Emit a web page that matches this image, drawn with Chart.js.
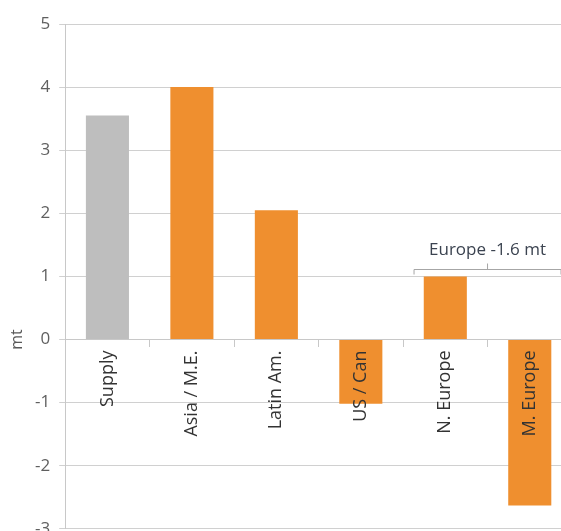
<!DOCTYPE html>
<html>
<head>
<meta charset="utf-8">
<script src="https://cdn.jsdelivr.net/npm/chart.js@4"></script>
<style>
  html, body { margin: 0; padding: 0; overflow: hidden; background: #fff; }
  #wrap { width: 572px; height: 548px; }
</style>
</head>
<body>
<div id="wrap"><canvas id="myChart"></canvas></div>
<script>
const categories = ['Supply', 'Asia / M.E.', 'Latin Am.', 'US / Can', 'N. Europe', 'M. Europe'];
const changeMt = [3.55, 4.0, 2.05, -1.02, 1.0, -2.63];
const barColors = ['#bebebe', '#ef8f2f', '#ef8f2f', '#ef8f2f', '#ef8f2f', '#ef8f2f'];
const yTicks = [-3, -2, -1, 0, 1, 2, 3, 4, 5];
const europeNote = 'Europe -1.6 mt';
const europeGroup = ['N. Europe', 'M. Europe'];

const font = "'Open Sans', sans-serif";

// "mt" unit label, set level with the zero line
const unitLabel = {
  id: 'unitLabel',
  afterDraw(chart) {
    const ctx = chart.ctx;
    const y = chart.scales.y.getPixelForValue(0);
    ctx.save();
    ctx.translate(17, y);
    ctx.rotate(-Math.PI / 2);
    ctx.font = '16px ' + font;
    ctx.fillStyle = '#595959';
    ctx.textAlign = 'center';
    ctx.textBaseline = 'middle';
    ctx.fillText('mt', 0, 0);
    ctx.restore();
  }
};

// bracket over the two European bars with the combined figure
const groupBracket = {
  id: 'groupBracket',
  afterDraw(chart) {
    const ctx = chart.ctx;
    const xs = chart.scales.x, ys = chart.scales.y;
    const a = xs.getPixelForValue(categories.indexOf(europeGroup[0]));
    const b = xs.getPixelForValue(categories.indexOf(europeGroup[1]));
    const mid = (a + b) / 2;
    const half = (b - a) * 0.87;
    const y = Math.round(ys.getPixelForValue(1.12)) + 0.5;
    ctx.save();
    ctx.strokeStyle = '#a6a6a6';
    ctx.lineWidth = 1;
    ctx.beginPath();
    ctx.moveTo(mid - half, y + 5);
    ctx.lineTo(mid - half, y);
    ctx.lineTo(mid + half, y);
    ctx.lineTo(mid + half, y + 5);
    ctx.moveTo(mid, y);
    ctx.lineTo(mid, y - 6);
    ctx.stroke();
    ctx.font = '17px ' + font;
    ctx.fillStyle = '#3b4350';
    ctx.textAlign = 'center';
    ctx.textBaseline = 'alphabetic';
    ctx.fillText(europeNote, mid, y - 15);
    ctx.restore();
  }
};

new Chart(document.getElementById('myChart'), {
  type: 'bar',
  data: {
    labels: categories,
    datasets: [{
      data: changeMt,
      backgroundColor: barColors,
      borderWidth: 0,
      barPercentage: 0.51,
      categoryPercentage: 1.0
    }]
  },
  options: {
    responsive: true,
    maintainAspectRatio: false,
    animation: false,
    layout: { padding: { top: 24, left: 26, right: 0, bottom: 6 } },
    plugins: {
      legend: { display: false },
      tooltip: { enabled: false }
    },
    scales: {
      x: {
        position: { y: 0 },
        afterFit(scale) { scale.height = 0; },
        grid: {
          display: true,
          drawOnChartArea: false,
          drawTicks: true,
          tickLength: 7,
          color: '#c8c8c8',
          offset: true
        },
        border: { display: true, color: '#c8c8c8' },
        ticks: {
          z: 1,
          minRotation: 90,
          maxRotation: 90,
          autoSkip: false,
          padding: 4,
          color: '#333333',
          font: { family: font, size: 18 }
        }
      },
      y: {
        min: -3,
        max: 5,
        afterBuildTicks(scale) { scale.ticks = yTicks.map(v => ({ value: v })); },
        grid: {
          color: '#d0d0d0',
          tickLength: 6,
          drawTicks: true
        },
        border: { display: true, color: '#c8c8c8' },
        ticks: {
          padding: 9,
          color: '#5f5f5f',
          font: { family: font, size: 17 }
        }
      }
    }
  },
  plugins: [unitLabel, groupBracket]
});
</script>
</body>
</html>
